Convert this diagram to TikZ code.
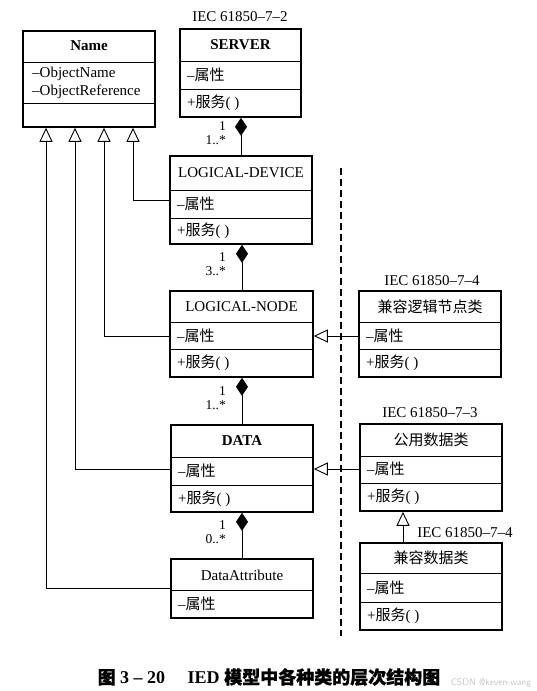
\documentclass[tikz,border=0pt]{standalone}
\usepackage{fontspec}
\setmainfont{Liberation Serif}
\newfontfamily\cjk{Noto Sans CJK SC}
\newfontfamily\cjkb[FakeBold=0.8]{Noto Sans CJK SC}
\usetikzlibrary{arrows.meta,fit}
\newcommand\rowsep[2]{\draw[sepline] (#1.west |- 0,#2) -- (#1.east |- 0,#2);}
\newcommand\attr{–{\cjk 属性}}
\newcommand\serv{+{\cjk 服务}( )}
\tikzset{
 cls/.style={draw, line width=1.6pt, inner sep=0pt},
 sepline/.style={line width=1pt},
 ttl/.style={inner sep=0pt, font=\fontsize{15}{18}\selectfont},
 rowtxt/.style={inner sep=0pt, anchor=west, font=\fontsize{15}{18}\selectfont},
 gen/.style={line width=0.9pt, -{Triangle[open,length=14pt,width=13pt,line width=0.9pt]}},
 comp/.style={line width=0.9pt, {Diamond[length=18pt,width=12pt]}-},
 mult/.style={inner sep=0pt, anchor=east, font=\fontsize{13.5}{15}\selectfont},
 stdlbl/.style={inner sep=0pt, font=\fontsize{15}{18}\selectfont},
}
\begin{document}
\begin{tikzpicture}[x=1pt,y=-1pt]
\useasboundingbox[fill=white] (0,0) rectangle (537,691);

% ---- Name
\node[cls, fit={(23,31)(155,127)}] (nm) {};
\rowsep{nm}{62}\rowsep{nm}{103}
\node[ttl] (nmt) at (89,46) {\bfseries Name};
\node[rowtxt] (nma) at (32,74) {–ObjectName};
\node[rowtxt] (nmb) at (32,92) {–ObjectReference};

% ---- SERVER
\node[stdlbl] (l72) at (240,17) {IEC 61850–7–2};
\node[cls, fit={(180,29)(301,117)}] (srv) {};
\rowsep{srv}{61}\rowsep{srv}{89}
\node[ttl] (srvt) at (240.5,45) {\bfseries SERVER};
\node[rowtxt] (srva) at (187,75) {\attr};
\node[rowtxt] (srvb) at (187,103) {\serv};

% ---- LOGICAL-DEVICE
\node[cls, fit={(170,156)(312,244)}] (ld) {};
\rowsep{ld}{190}\rowsep{ld}{218}
\node[ttl] (ldt) at (241,173) {LOGICAL-DEVICE};
\node[rowtxt] (lda) at (177,204) {\attr};
\node[rowtxt] (ldb) at (177,231) {\serv};

% ---- LOGICAL-NODE
\node[cls, fit={(170,291)(313,377)}] (ln) {};
\rowsep{ln}{322}\rowsep{ln}{349}
\node[ttl] (lnt) at (241.5,307) {LOGICAL-NODE};
\node[rowtxt] (lna) at (177,336) {\attr};
\node[rowtxt] (lnb) at (177,363) {\serv};

% ---- compatible LN class
\node[stdlbl] (l74a) at (432,281) {IEC 61850–7–4};
\node[cls, fit={(359,291)(501,377)}] (cln) {};
\rowsep{cln}{322}\rowsep{cln}{349}
\node[ttl] (clnt) at (430,307) {\cjk 兼容逻辑节点类};
\node[rowtxt] (clna) at (366,336) {\attr};
\node[rowtxt] (clnb) at (366,363) {\serv};

% ---- DATA
\node[cls, fit={(171,425)(313,512)}] (data) {};
\rowsep{data}{457}\rowsep{data}{485}
\node[ttl] (datat) at (242,441) {\bfseries DATA};
\node[rowtxt] (dataa) at (178,471) {\attr};
\node[rowtxt] (datab) at (178,499) {\serv};

% ---- common data class
\node[stdlbl] (l73) at (430,413) {IEC 61850–7–3};
\node[cls, fit={(360,424)(502,511)}] (cdc) {};
\rowsep{cdc}{456}\rowsep{cdc}{483}
\node[ttl] (cdct) at (431,440) {\cjk 公用数据类};
\node[rowtxt] (cdca) at (367,469) {\attr};
\node[rowtxt] (cdcb) at (367,497) {\serv};

% ---- compatible data class
\node[stdlbl] (l74b) at (465,533) {IEC 61850–7–4};
\node[cls, fit={(360,543)(502,630)}] (cdd) {};
\rowsep{cdd}{573}\rowsep{cdd}{602}
\node[ttl] (cddt) at (431,558) {\cjk 兼容数据类};
\node[rowtxt] (cdda) at (367,588) {\attr};
\node[rowtxt] (cddb) at (367,616) {\serv};

% ---- DataAttribute
\node[cls, fit={(171,559)(313,618)}] (da) {};
\rowsep{da}{590}
\node[ttl] (dat) at (242,575) {DataAttribute};
\node[rowtxt] (daa) at (178,604) {\attr};

% ---- compositions
\draw[comp] (srv.south -| 241,0) -- (ld.north -| 241,0);
\node[mult] (m1a) at (226,126) {1};
\node[mult] (m1b) at (226,140) {1..*};
\draw[comp] (ld.south -| 242,0) -- (ln.north -| 242,0);
\node[mult] (m2a) at (226,257) {1};
\node[mult] (m2b) at (226,271) {3..*};
\draw[comp] (ln.south -| 242,0) -- (data.north -| 242,0);
\node[mult] (m3a) at (226,391) {1};
\node[mult] (m3b) at (226,405) {1..*};
\draw[comp] (data.south -| 242,0) -- (da.north -| 242,0);
\node[mult] (m4a) at (226,525) {1};
\node[mult] (m4b) at (226,539) {0..*};

% ---- generalisations to Name
\draw[gen] (ld.west |- 0,200) -| (nm.south -| 133,0);
\draw[gen] (ln.west |- 0,336) -| (nm.south -| 104,0);
\draw[gen] (data.west |- 0,469) -| (nm.south -| 75,0);
\draw[gen] (da.west |- 0,588) -| (nm.south -| 46,0);

% ---- other generalisations
\draw[gen] (cln.west |- 0,336) -- (ln.east |- 0,336);
\draw[gen] (cdc.west |- 0,469) -- (data.east |- 0,469);
\draw[gen] (cdd.north -| 403,0) -- (cdc.south -| 403,0);

% ---- dashed separator
\coordinate (dtop) at (341,168);
\coordinate (dbot) at (341,636);
\draw[line width=1.4pt, dash pattern=on 7pt off 4pt] (dtop) -- (dbot);

% ---- caption
\node[inner sep=0pt, font=\fontsize{18}{21}\selectfont\bfseries] (cap) at (269,677)
  {{\cjkb 图}\ 3\ –\ 20\quad\ IED\ {\cjkb 模型中各种类的层次结构图}};
\node[inner sep=0pt, font=\fontsize{9.5}{11}\sffamily, text=gray!45] (wm) at (491,683) {CSDN @keven-wang};
\end{tikzpicture}
\end{document}
